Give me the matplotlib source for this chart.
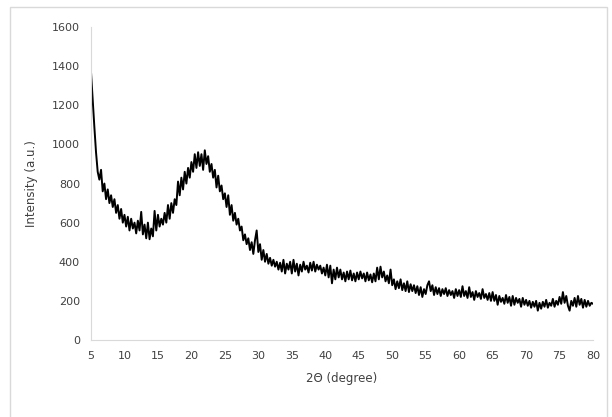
import matplotlib
matplotlib.use("Agg")
import matplotlib.pyplot as plt
import numpy as np
from matplotlib.patches import Rectangle

# intensity every 0.25 degree, 5 -> 80
intensity = [
    1370, 1230, 1090, 960, 860, 820, 870, 760, 800, 720, 770, 700, 740, 680, 720, 650, 690, 620, 670, 600,
    640, 580, 630, 560, 620, 570, 600, 545, 610, 560, 655, 540, 590, 520, 600, 515, 570, 530, 660, 560,
    640, 580, 620, 590, 650, 600, 690, 620, 700, 650, 720, 690, 810, 740, 830, 770, 860, 800, 880, 830,
    910, 860, 950, 880, 960, 890, 950, 870, 970, 900, 940, 860, 900, 830, 870, 780, 840, 760, 790, 720,
    750, 680, 740, 640, 690, 610, 650, 590, 620, 560, 580, 510, 540, 490, 520, 460, 500, 440, 510, 560,
    450, 490, 410, 460, 400, 440, 390, 420, 380, 410, 375, 400, 360, 395, 350, 410, 340, 390, 360, 400,
    340, 410, 350, 390, 330, 385, 350, 400, 360, 380, 345, 395, 355, 400, 350, 385, 360, 380, 340, 370,
    330, 385, 320, 380, 290, 360, 310, 370, 320, 360, 310, 345, 300, 350, 310, 355, 305, 340, 300, 345,
    310, 350, 315, 340, 300, 345, 305, 335, 295, 340, 300, 370, 310, 375, 320, 350, 300, 330, 290, 360,
    280, 310, 260, 300, 265, 310, 255, 290, 250, 300, 245, 285, 250, 280, 240, 275, 230, 270, 220, 260,
    235, 280, 300, 250, 280, 230, 270, 235, 265, 225, 260, 235, 265, 225, 255, 230, 250, 215, 260, 225,
    255, 220, 275, 225, 250, 215, 270, 220, 245, 205, 250, 220, 240, 210, 260, 215, 235, 205, 240, 200,
    245, 200, 230, 180, 225, 195, 215, 185, 230, 190, 220, 175, 225, 180, 215, 190, 210, 170, 215, 180,
    205, 175, 200, 165, 195, 170, 200, 150, 190, 160, 195, 170, 205, 165, 190, 175, 210, 170, 200, 180,
    220, 185, 245, 190, 225, 175, 150, 200, 175, 215, 170, 225, 180, 210, 165, 205, 170, 200, 175, 190,
    185,
]
two_theta = np.linspace(5, 80, len(intensity))

xticks = list(range(5, 81, 5))
yticks = list(range(0, 1601, 200))

fig = plt.figure(figsize=(6.12, 4.17), dpi=100)
ax = fig.add_axes([0.1487, 0.1847, 0.8203, 0.7503])

ax.plot(two_theta, intensity, color="black", linewidth=1.4)

ax.set_xlim(5, 80)
ax.set_ylim(0, 1600)
ax.set_xticks(xticks)
ax.set_yticks(yticks)
ax.tick_params(length=0, labelsize=8, labelcolor="#404040", pad=8)

for side in ["top", "right"]:
    ax.spines[side].set_visible(False)
for side in ["left", "bottom"]:
    ax.spines[side].set_color("#d9d9d9")

ax.set_xlabel("2Θ (degree)", fontsize=8.5, color="#404040", labelpad=8)
ax.set_ylabel("Intensity (a.u.)", fontsize=8.5, color="#404040", labelpad=10)

# light chart frame like the original
fig.patches.append(Rectangle((10 / 612, -0.05), 597 / 612, 1.05 - 7 / 417,
                             transform=fig.transFigure, fill=False,
                             edgecolor="#d9d9d9", linewidth=1.0))

fig.savefig("out.png", dpi=100)
